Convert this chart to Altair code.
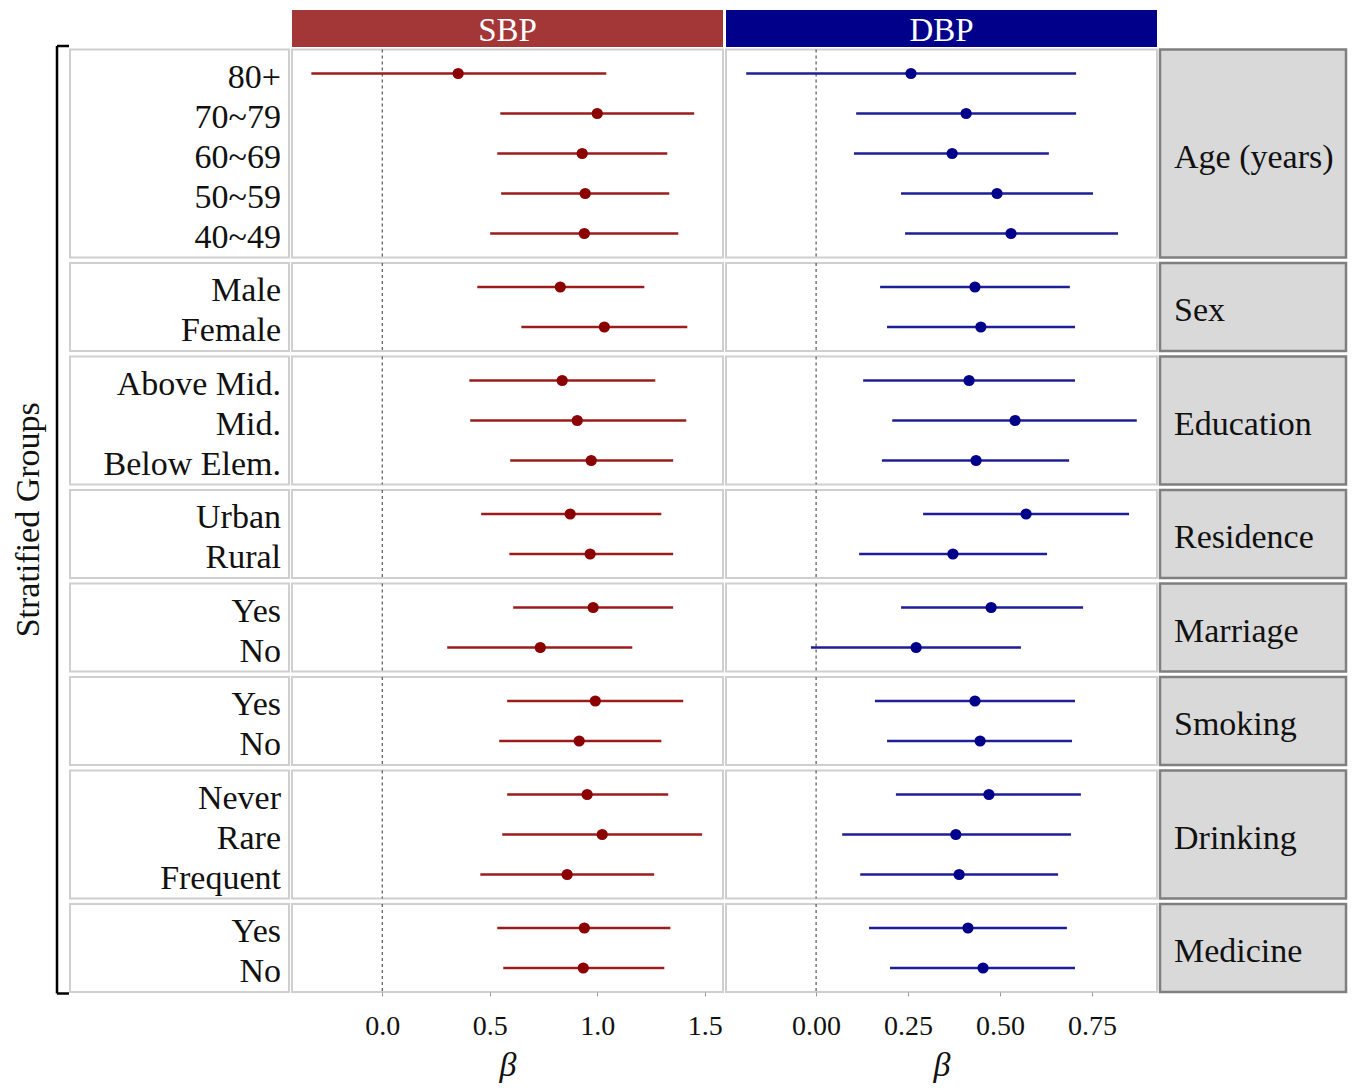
import altair as alt
import pandas as pd

FONT = "Liberation Serif"

groups = ["Age (years)", "Sex", "Education", "Residence", "Marriage", "Smoking", "Drinking", "Medicine"]
group_labels = [
    ["80+", "70~79", "60~69", "50~59", "40~49"],
    ["Male", "Female"],
    ["Above Mid.", "Mid.", "Below Elem."],
    ["Urban", "Rural"],
    ["Yes", "No"],
    ["Yes", "No"],
    ["Never", "Rare", "Frequent"],
    ["Yes", "No"],
]

sbp_est = [0.353, 1.00, 0.93, 0.944, 0.94, 0.828, 1.033, 0.837, 0.907, 0.972, 0.874, 0.967,
           0.981, 0.735, 0.991, 0.916, 0.953, 1.023, 0.86, 0.94, 0.935]
sbp_lo = [-0.33, 0.549, 0.535, 0.553, 0.502, 0.442, 0.647, 0.405, 0.409, 0.595, 0.46, 0.591,
          0.609, 0.302, 0.581, 0.544, 0.581, 0.558, 0.456, 0.535, 0.563]
sbp_hi = [1.042, 1.451, 1.326, 1.335, 1.377, 1.219, 1.419, 1.27, 1.414, 1.353, 1.298, 1.353,
          1.353, 1.163, 1.40, 1.298, 1.33, 1.488, 1.265, 1.34, 1.312]

dbp_est = [0.258, 0.408, 0.37, 0.492, 0.53, 0.432, 0.448, 0.416, 0.541, 0.435, 0.571, 0.372,
           0.476, 0.272, 0.432, 0.446, 0.47, 0.38, 0.389, 0.413, 0.454]
dbp_lo = [-0.19, 0.109, 0.103, 0.231, 0.242, 0.174, 0.193, 0.128, 0.207, 0.179, 0.291, 0.117,
          0.231, -0.014, 0.16, 0.193, 0.217, 0.071, 0.12, 0.144, 0.201]
dbp_hi = [0.707, 0.707, 0.633, 0.753, 0.821, 0.69, 0.704, 0.704, 0.872, 0.688, 0.851, 0.628,
          0.726, 0.557, 0.704, 0.696, 0.72, 0.693, 0.658, 0.682, 0.704]

sbp_ticks = [0.0, 0.5, 1.0, 1.5]
dbp_ticks = [0.0, 0.25, 0.5, 0.75]

rows = []
for g, labs in zip(groups, group_labels):
    for l in labs:
        rows.append({"group": g, "label": l})
df = pd.DataFrame(rows)
df["sbp_est"], df["sbp_lo"], df["sbp_hi"] = sbp_est, sbp_lo, sbp_hi
df["dbp_est"], df["dbp_lo"], df["dbp_hi"] = dbp_est, dbp_lo, dbp_hi

PANEL_W = 431
LABEL_W = 219
STRIP_W = 186
LEFT_W = 57
HEADER_RECT_H = 37
ROW_GAP = 5.5
HEADER_CELL_H = 39 - ROW_GAP   # header rect overflows its cell so the first row sits 2px below it
COL_GAP = 3
BORDER = "#CFCFCF"


def row_height(n):
    return 40 * (n - 1) + 48


def blank(w, h):
    return alt.Chart(alt.Data(values=[{"t": " "}])).mark_text(fontSize=6).encode(
        text="t:N", x=alt.value(w / 2), y=alt.value(h / 2)).properties(
        width=w, height=h, view=alt.ViewBackground(stroke="transparent"))


def data_panel(dg, labs, m, color, line_color, domain, ticks, fmt, show_axis):
    h = row_height(len(labs))
    if show_axis:
        axis = alt.Axis(values=ticks, format=fmt, grid=False, domain=False,
                        tickSize=4, tickColor="#999999", labelFont=FONT, labelFontSize=28,
                        labelColor="#111111", labelPadding=16, title="β", titleFont=FONT,
                        titleFontSize=34, titleFontStyle="italic", titleFontWeight="normal",
                        titleColor="#111111", titlePadding=8)
    else:
        axis = None
    xs = alt.Scale(domain=domain, nice=False, zero=False)
    y = alt.Y("label:N", sort=labs, scale=alt.Scale(type="point", padding=0.6), axis=None)
    zero = alt.Chart(alt.Data(values=[{"z": 0}])).mark_rule(
        color="#555555", strokeDash=[3, 3], strokeWidth=1.2
    ).encode(x=alt.X("z:Q", scale=xs, axis=axis))
    base = alt.Chart(dg)
    bars = base.mark_rule(color=line_color, strokeWidth=2.4).encode(
        x=alt.X(f"{m}_lo:Q", scale=xs, axis=axis), x2=f"{m}_hi:Q", y=y)
    pts = base.mark_circle(color=color, size=125, opacity=1).encode(
        x=alt.X(f"{m}_est:Q", scale=xs, axis=axis), y=y)
    return alt.layer(zero, bars, pts).properties(
        width=PANEL_W, height=h,
        view=alt.ViewBackground(stroke=BORDER, strokeWidth=2, fill="white"))


def label_panel(dg, labs):
    h = row_height(len(labs))
    return alt.Chart(dg).mark_text(
        align="right", baseline="middle", dy=4, font=FONT, fontSize=34, color="#111111"
    ).encode(
        y=alt.Y("label:N", sort=labs, scale=alt.Scale(type="point", padding=0.6), axis=None),
        x=alt.value(LABEL_W - 8), text="label:N"
    ).properties(width=LABEL_W, height=h,
                 view=alt.ViewBackground(stroke=BORDER, strokeWidth=2, fill="white"))


def strip_panel(g, n):
    h = row_height(n)
    return alt.Chart(alt.Data(values=[{"g": g}])).mark_text(
        align="left", baseline="middle", dy=4, font=FONT, fontSize=34, color="#111111"
    ).encode(x=alt.value(14), y=alt.value(h / 2), text="g:N").properties(
        width=STRIP_W, height=h,
        view=alt.ViewBackground(stroke="#7F7F7F", strokeWidth=2.5, fill="#D9D9D9"))


def header(text, fill, w):
    d = alt.Data(values=[{"t": text}])
    rect = alt.Chart(d).mark_rect(color=fill).encode(
        x=alt.value(0), x2=alt.value(w), y=alt.value(0), y2=alt.value(HEADER_RECT_H))
    txt = alt.Chart(d).mark_text(
        align="center", baseline="middle", dy=2, font=FONT, fontSize=33, color="white"
    ).encode(x=alt.value(w / 2), y=alt.value(HEADER_RECT_H / 2), text="t:N")
    return alt.layer(rect, txt).properties(
        width=w, height=HEADER_CELL_H, view=alt.ViewBackground(stroke="transparent"))


total_h = HEADER_CELL_H + ROW_GAP + sum(row_height(len(l)) for l in group_labels) + ROW_GAP * (len(groups) - 1)
one = alt.Data(values=[{"a": 1}])
br_x = 47
br_top = 36
br_bot = total_h + 2
vline = alt.Chart(one).mark_rule(color="black", strokeWidth=2.5).encode(
    x=alt.value(br_x), y=alt.value(br_top), y2=alt.value(br_bot))
htop = alt.Chart(one).mark_rule(color="black", strokeWidth=2.5).encode(
    x=alt.value(br_x), x2=alt.value(br_x + 12), y=alt.value(br_top))
hbot = alt.Chart(one).mark_rule(color="black", strokeWidth=2.5).encode(
    x=alt.value(br_x), x2=alt.value(br_x + 12), y=alt.value(br_bot))
ytitle = alt.Chart(alt.Data(values=[{"t": "Stratified Groups"}])).mark_text(
    angle=270, align="center", baseline="middle", font=FONT, fontSize=34, color="#111111"
).encode(x=alt.value(19), y=alt.value((br_top + br_bot) / 2), text="t:N")
bracket_cell = alt.layer(vline, htop, hbot, ytitle).properties(
    width=LEFT_W, height=HEADER_CELL_H, view=alt.ViewBackground(stroke="transparent"))

cells = [bracket_cell, blank(LABEL_W, HEADER_CELL_H),
         header("SBP", "#A33636", PANEL_W), header("DBP", "#00008B", PANEL_W),
         blank(STRIP_W, HEADER_CELL_H)]

for i, (g, labs) in enumerate(zip(groups, group_labels)):
    dg = df[df["group"] == g]
    last = i == len(groups) - 1
    h = row_height(len(labs))
    cells += [
        blank(LEFT_W, h),
        label_panel(dg, labs),
        data_panel(dg, labs, "sbp", "#8B0000", "#9A1C1C", [-0.42, 1.585], sbp_ticks, ".1f", last),
        data_panel(dg, labs, "dbp", "#00008B", "#1E1E96", [-0.245, 0.927], dbp_ticks, ".2f", last),
        strip_panel(g, len(labs)),
    ]

chart = alt.concat(*cells, columns=5, align="each", bounds="flush",
                   spacing={"row": ROW_GAP, "column": COL_GAP}).properties(padding=1).configure(
    background="white")

chart.save("out.html", embed_options={"renderer": "svg", "actions": False})
